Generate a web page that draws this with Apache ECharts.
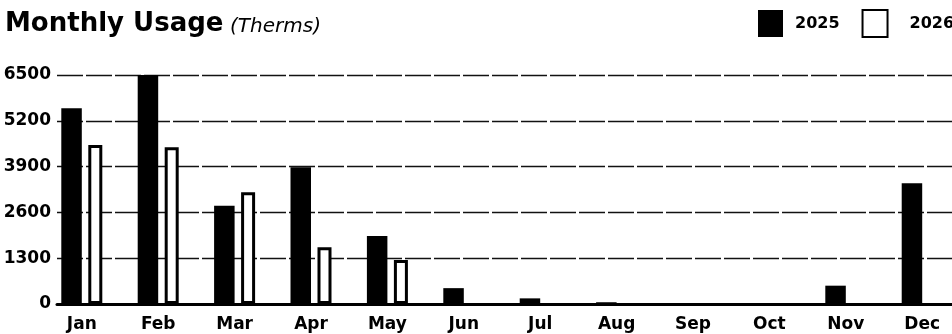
<!DOCTYPE html>
<html>
<head>
<meta charset="utf-8">
<script src="https://cdn.jsdelivr.net/npm/echarts@6/dist/echarts.min.js"></script>
<style>
  html, body { margin: 0; padding: 0; background: #fff; }
  #chart { width: 952px; height: 334px; }
</style>
</head>
<body>
<div id="chart"></div>
<script>
// data
var months = ['Jan', 'Feb', 'Mar', 'Apr', 'May', 'Jun', 'Jul', 'Aug', 'Sep', 'Oct', 'Nov', 'Dec']
var usage2025 = [5555, 6500, 2790, 3880, 1930, 450, 160, 50, 0, 0, 520, 3425]
var usage2026 = [4510, 4450, 3170, 1610, 1250, null, null, null, null, null, null, null]
var yTicks = [0, 1300, 2600, 3900, 5200, 6500]

var font = '"DejaVu Sans", Roboto, sans-serif'
var monthIndex = months.map(function (m, i) { return i })

function pairs (values) {
  return values.map(function (v, i) { return [i, v] })
}

var chart = echarts.init(document.getElementById('chart'), null, { renderer: 'canvas' })
chart.setOption({
  animation: false,
  backgroundColor: '#fff',
  title: [{
    text: 'Monthly Usage',
    left: 5,
    top: 11,
    padding: 0,
    textStyle: { fontFamily: font, fontSize: 26, fontWeight: 'bold', color: '#000' }
  }, {
    text: '(Therms)',
    left: 230,
    top: 17,
    padding: 0,
    textStyle: { fontFamily: font, fontSize: 20, fontStyle: 'italic', fontWeight: 'normal', color: '#000' }
  }],
  legend: {
    orient: 'horizontal',
    left: 758,
    top: 9,
    width: 400,
    padding: 0,
    icon: 'rect',
    itemWidth: 25,
    itemHeight: 27,
    itemGap: 22,
    textStyle: { fontFamily: font, fontSize: 16, fontWeight: 'bold', color: '#000', padding: [0, 0, 0, 7] },
    data: [
      { name: '2025' },
      { name: '2026', textStyle: { padding: [0, 0, 0, 17] } }
    ]
  },
  grid: {
    left: 57,
    right: 0,
    top: 75,
    bottom: 30
  },
  xAxis: {
    type: 'value',
    min: -0.3246,
    max: 11.39,
    splitLine: { show: false },
    axisTick: { show: false },
    axisLine: { show: true, onZero: true, lineStyle: { color: '#000', width: 3 } },
    axisLabel: {
      customValues: monthIndex,
      formatter: function (v) { return months[Math.round(v)] },
      margin: 12,
      fontFamily: font,
      fontSize: 17,
      fontWeight: 'bold',
      color: '#000'
    }
  },
  yAxis: {
    type: 'value',
    min: yTicks[0],
    max: yTicks[yTicks.length - 1],
    interval: 1300,
    axisLine: { show: false },
    axisTick: { show: false },
    axisLabel: {
      margin: 6,
      formatter: function (v) { return String(v) },
      fontFamily: font,
      fontSize: 17,
      fontWeight: 'bold',
      color: '#000'
    },
    splitLine: {
      lineStyle: { color: '#111', width: 1.4, type: [26, 3] }
    }
  },
  series: [{
    name: '2025',
    type: 'bar',
    barWidth: 20.5,
    barGap: '31.7%',
    itemStyle: { color: '#000' },
    data: pairs(usage2025)
  }, {
    name: '2026',
    type: 'bar',
    barWidth: 14,
    barGap: '31.7%',
    itemStyle: { color: '#fff', borderColor: '#000', borderWidth: 3 },
    data: pairs(usage2026)
  }]
})
</script>
</body>
</html>
